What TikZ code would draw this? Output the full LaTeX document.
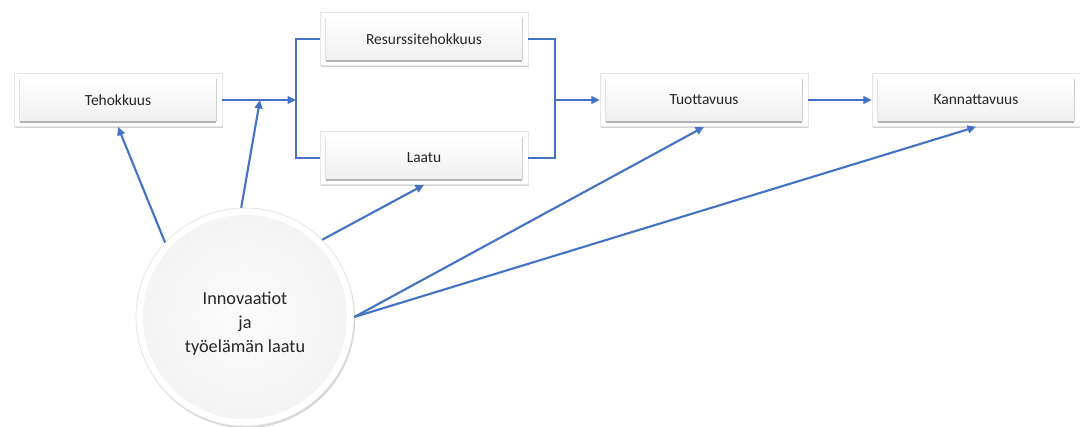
\documentclass[tikz,border=0pt]{standalone}
\usepackage{fontspec}
\setmainfont{Carlito}
\usetikzlibrary{arrows.meta,shadows,calc}
\definecolor{lnblue}{HTML}{4472C4}
\definecolor{txt}{HTML}{262626}
\tikzset{
  outerbox/.style={draw=gray!20, line width=0.4pt, fill=white, minimum width=5.2cm, minimum height=1.33cm,
    drop shadow={shadow xshift=0.6pt, shadow yshift=-1.2pt, opacity=0.35, fill=gray}},
  innerbox/.style={draw=none, top color=white, bottom color=gray!12, minimum width=4.95cm, minimum height=1.08cm,
    font=\fontsize{11}{13}\selectfont, text=txt},
  conn/.style={draw=lnblue, line width=1.5pt},
  arr/.style={conn, -{Triangle[length=6pt,width=5.5pt]}},
}
\newcommand{\mkbox}[4]{%
  \node[outerbox] (#1) at (#2,#3) {};
  \node[innerbox] (#1i) at (#2,#3) {#4};
  \draw[gray!60, line width=1.4pt] ($(#1i.south west)+(1.5,0)$) -- ($(#1i.south east)+(-1.5,0)$);
  \draw[gray!40, line width=0.8pt] ($(#1i.south east)+(-0.6,-1)$) -- ($(#1i.north east)+(-0.6,1)$);
  \draw[gray!25, line width=0.6pt] ($(#1i.south west)+(0.5,-1)$) -- ($(#1i.north west)+(0.5,1)$);
}
\begin{document}
\begin{tikzpicture}[x=0.025cm,y=-0.025cm]
\useasboundingbox[fill=white] (0,0) rectangle (1080,427);
\mkbox{teh}{118}{100}{Tehokkuus}
\mkbox{res}{424}{39}{Resurssitehokkuus}
\mkbox{laa}{424}{158}{Laatu}
\mkbox{tuo}{704}{100}{Tuottavuus}
\mkbox{kan}{976}{100}{Kannattavuus}
% circle
\node[circle, fill=white, draw=gray!25, minimum size=5.45cm,
  drop shadow={shadow xshift=0.8pt, shadow yshift=-1.5pt, opacity=0.3, fill=gray}] (circ) at (245,317) {};
\node[circle, draw=white, line width=1.2pt, inner color=gray!3, outer color=gray!9, minimum size=5.15cm,
  align=center, font=\fontsize{13}{17}\selectfont, text=txt] (circi) at (245,317) {\\[2pt]Innovaatiot\\ja\\työelämän laatu};
% connectors
\coordinate (mid) at (260,100);
\coordinate (sp) at (296,100);
\coordinate (sj) at (555,100);
\draw[arr] (teh.east) -- (sp);
\draw[conn] (res.west) -| (sp) |- (laa.west);
\draw[conn] (res.east) -| (sj) |- (laa.east);
\draw[arr] (sj) -- (tuo.west);
\draw[arr] (tuo.east) -- (kan.west);
\draw[arr] (circ.137) -- (teh.south);
\draw[arr] (circ.92) -- (mid);
\draw[arr] (circ.45) -- (laa.south);
\draw[arr] (circ.0) -- (tuo.south);
\draw[arr] (circ.0) -- (kan.south);
\end{tikzpicture}
\end{document}
